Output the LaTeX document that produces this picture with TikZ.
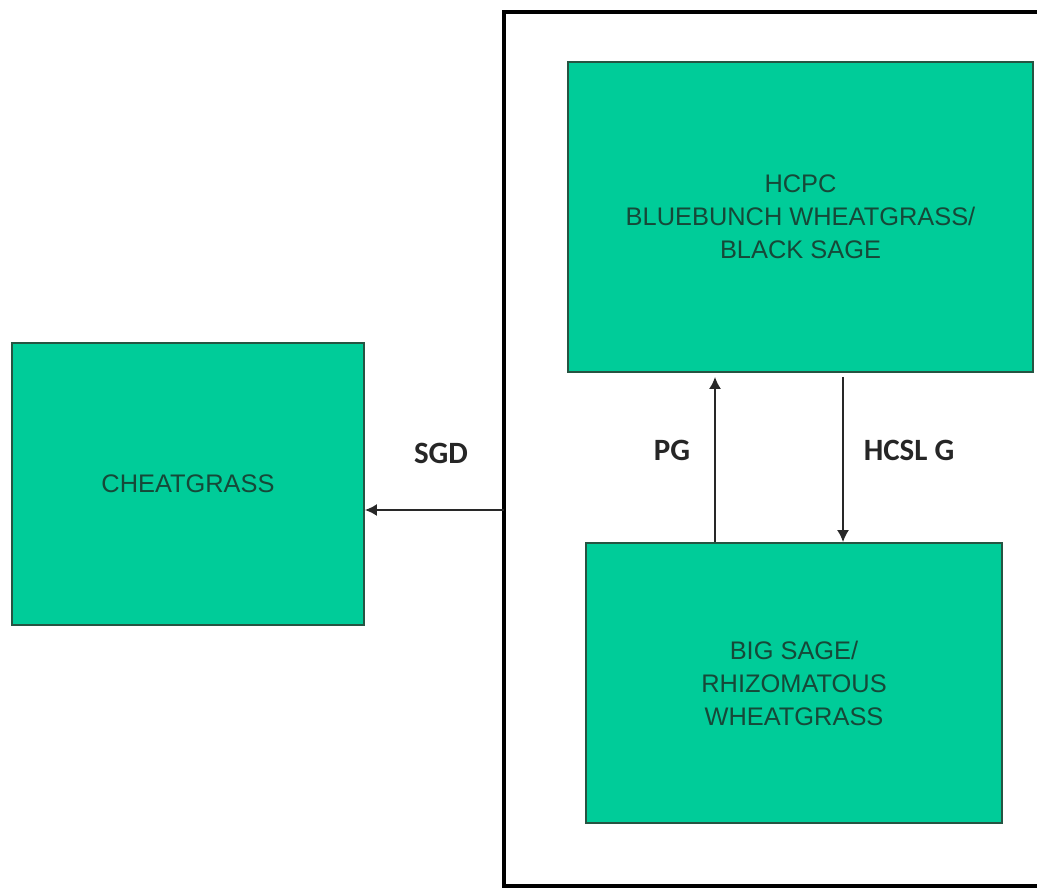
\documentclass[tikz,border=0pt]{standalone}
\usepackage{fontspec}
\setmainfont{Liberation Sans}
\newfontfamily\labelfont{Carlito}
\usepackage{xcolor}
\definecolor{boxgreen}{RGB}{0,204,153}
\definecolor{boxedge}{RGB}{38,84,66}
\definecolor{boxtext}{RGB}{22,72,56}
\definecolor{arrowgray}{RGB}{40,40,40}
\usetikzlibrary{arrows.meta}

\begin{document}
\begin{tikzpicture}[
      x=0.5pt,y=-0.5pt,
      state/.style={draw=boxedge,line width=0.9pt,fill=boxgreen,text=boxtext,
        font=\fontsize{12.7}{16.5}\selectfont,align=center,inner sep=0pt},
      trans/.style={-{Latex[length=6pt,width=6pt]},line width=0.9pt,draw=arrowgray},
      lbl/.style={font=\labelfont\bfseries\fontsize{15.5}{18}\selectfont,text=black!85}
    ]
    \useasboundingbox (0,0) rectangle (1037,888);
    % frame round the two sage states (right side runs off the page)
    \node[draw,line width=2pt,minimum width=278pt,minimum height=437pt,inner sep=0pt]
    (frame) at (782,449) {};
    \node[state,minimum width=176pt,minimum height=141pt] (cheat) at (188,484)
    {CHEATGRASS};
    \node[state,minimum width=232.5pt,minimum height=155pt] (hcpc) at (800.5,217)
    {HCPC\\BLUEBUNCH WHEATGRASS/\\BLACK SAGE};
    \node[state,minimum width=208pt,minimum height=140pt] (bigsage) at (794,683)
    {BIG SAGE/\\RHIZOMATOUS\\WHEATGRASS};
    \coordinate (sgdfoot) at (504,510);
    \draw[trans] (sgdfoot) -- (cheat.east |- sgdfoot);
    \draw[trans] (bigsage.north -| 715,0) -- ([yshift=-2pt]hcpc.south -| 715,0);
    \draw[trans] ([yshift=-2pt]hcpc.south -| 843,0) -- (bigsage.north -| 843,0);
    \node[lbl] (sgd) at (441,453) {SGD};
    \node[lbl] (pg) at (672,450) {PG};
    \node[lbl] (hcslg) at (909,450) {HCSL G};
  \end{tikzpicture}
\end{document}
